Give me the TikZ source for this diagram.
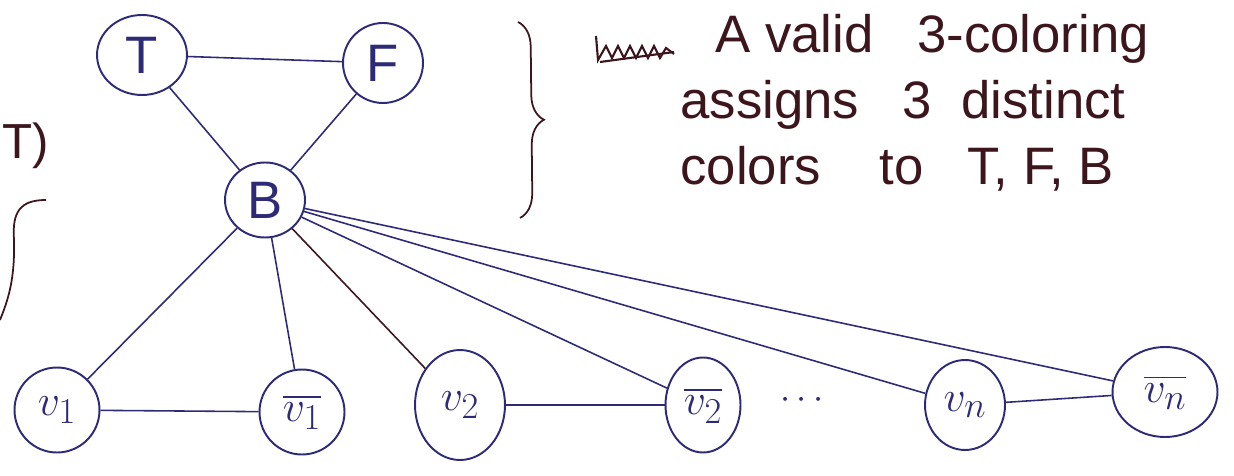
\documentclass[tikz,border=0pt]{standalone}
\usepackage{amsmath}
\usepackage{fontspec}
\setmainfont{Liberation Sans}
\usetikzlibrary{shapes.geometric, decorations.pathreplacing}
\definecolor{penblue}{RGB}{45,42,120}
\definecolor{penbrown}{RGB}{60,22,28}
\tikzset{
    vertex/.style = {
        ellipse, draw=penblue, line width=1.1pt,
        minimum width=1.7cm,
        minimum height=1.7cm,
        inner sep=0pt,
        text=penblue,
        font=\fontsize{30}{32}\selectfont
    },
    edge/.style = {
        draw=penblue, line width=0.9pt
    },
    note/.style = {
        text=penbrown,
        align=left, inner sep=0pt,
        font=\fontsize{30}{37.5}\selectfont
    }
}
\begin{document}
\begin{tikzpicture}[x=0.02cm, y=-0.02cm]
\useasboundingbox (0,0) rectangle (1234,476);

\node (T) [vertex, minimum width=1.8cm, minimum height=1.6cm] at (142,55) {T};
\node (F) [vertex, minimum width=1.6cm, minimum height=1.6cm] at (383,63) {F};
\node (B) [vertex, minimum width=1.6cm, minimum height=1.5cm] at (265,200) {B};
\node (v1) [vertex] at (57,410) {$v_1$};
\node (v1b) [vertex] at (302,412) {$\overline{v_1}$};
\node (v2) [vertex, minimum width=1.8cm, minimum height=2.2cm] at (460,405) {$v_2$};
\node (v2b) [vertex, minimum width=1.5cm, minimum height=1.9cm] at (703,405) {$\overline{v_2}$};
\node (dots) [text=penblue, font=\huge] at (805,400) {$\cdots$};
\node (vn) [vertex, minimum width=1.6cm, minimum height=1.8cm] at (965,405) {$v_n$};
\node (vnb) [vertex, minimum width=2.1cm, minimum height=1.8cm] at (1165,392) {$\overline{v_n}$};

\draw [edge] (T) -- (F);
\draw [edge] (T) -- (B);
\draw [edge] (F) -- (B);
\draw [edge] (B) -- (v1);
\draw [edge] (B) -- (v1b);
\draw [edge, draw=penbrown] (B) -- (v2);
\draw [edge] (B) -- (v2b);
\draw [edge] (B) -- (vn);
\draw [edge] (B) -- (vnb);
\draw [edge] (v1) -- (v1b);
\draw [edge] (v2) -- (v2b);
\draw [edge] (vn) -- (vnb);

% brace round the triangle
\coordinate (btop) at (518,22);
\coordinate (bbot) at (520,218);
\draw [penbrown, line width=1pt, decorate,
       decoration={brace, amplitude=0.5cm}] (btop) -- (bbot);

% note
\draw [penbrown, line width=1.2pt] (596,36) -- (598,60) -- (606,46) -- (612,58) -- (618,46)
      -- (624,58) -- (630,46) -- (636,58) -- (642,46) -- (648,58) -- (654,46)
      -- (660,58) -- (666,48) -- (674,54);
\draw [penbrown, line width=1.2pt] (600,62) -- (674,52);
\node (note) [note, anchor=north west] at (680,14)
      {\hspace*{0.7cm}A valid \ \ 3-coloring\\ assigns \ \ 3 \ distinct\\ colors \ \ \ to \ \ T, F, B};

% cut off at the left edge
\node (lt) [text=penbrown, font=\fontsize{28}{30}\selectfont, anchor=west, inner sep=1pt] at (0,146) {T)};
\draw [penbrown, line width=1pt] (46,200) .. controls (20,200) and (12,212) .. (14,240)
      .. controls (15,280) and (8,300) .. (0,320);

\end{tikzpicture}
\end{document}
